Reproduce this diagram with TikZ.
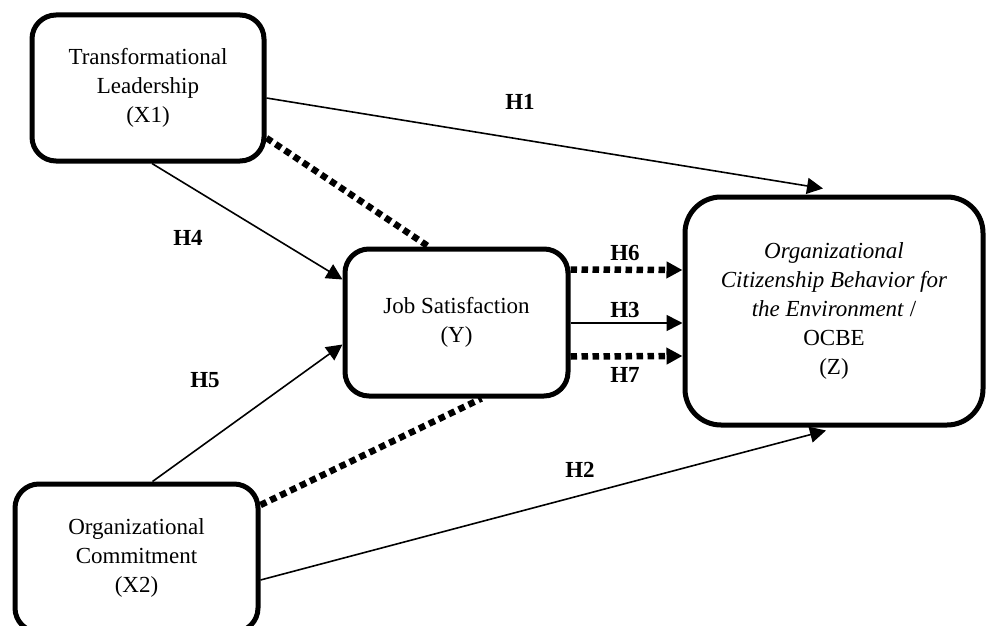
\documentclass[tikz,border=0pt]{standalone}
\usepackage{fontspec}
\setmainfont{Liberation Serif}
\usetikzlibrary{arrows.meta}
\tikzset{
  var/.style={draw, line width=5pt, rounded corners=24pt, align=center, inner sep=0pt,
    font=\fontsize{23}{29}\selectfont},
  tip/.style={-{Triangle[length=16pt,width=16pt]}},
  link/.style={line width=1.6pt, tip},
  dotlink/.style={line width=6.5pt, dash pattern=on 6.5pt off 4.5pt},
  hlab/.style={font=\fontsize{23}{29}\selectfont\bfseries, inner sep=0pt}
}
\begin{document}
\begin{tikzpicture}[x=1pt,y=-1pt]
\useasboundingbox (0,0) rectangle (986,626);
\node[var, minimum width=232pt, minimum height=146pt] (X1) at (148,88) {Transformational\\Leadership\\(X1)};
\node[var, minimum width=223pt, minimum height=147pt] (Y) at (456.5,322.5) {Job Satisfaction\\(Y)};
\node[var, minimum width=243pt, minimum height=148pt] (X2) at (136.5,558) {Organizational\\Commitment\\(X2)};
\node[var, rounded corners=36pt, minimum width=298pt, minimum height=228pt] (Z) at (834,311)
  {\textit{Organizational}\\\textit{Citizenship Behavior for}\\\textit{the Environment} /\\OCBE\\(Z)};
\draw[link] ([yshift=-10pt]X1.east) -- ([xshift=-11pt,yshift=6pt]Z.north);
\draw[dotlink] ([yshift=-50pt]X1.east) -- ([xshift=-28pt]Y.north);
\draw[link] ([xshift=4pt]X1.south) -- ([yshift=43pt]Y.west);
\draw[link] ([xshift=16pt]X2.north) -- ([yshift=-22pt]Y.west);
\draw[dotlink] ([yshift=53pt]X2.east) -- ([xshift=25pt]Y.south);
\draw[link] ([yshift=-22pt]X2.east) -- ([xshift=-8pt,yshift=-3pt]Z.south);
\draw[dotlink, tip] ([yshift=53pt]Y.east) -- ([yshift=41pt]Z.west);
\draw[link] ([yshift=-0.5pt]Y.east) -- ([yshift=-12pt]Z.west);
\draw[dotlink, tip] ([yshift=-34pt]Y.east) -- ([yshift=-45pt]Z.west);
\node[hlab] (h1) at (520,102) {H1};
\node[hlab] (h2) at (580,470) {H2};
\node[hlab] (h3) at (625,310) {H3};
\node[hlab] (h4) at (188,238) {H4};
\node[hlab] (h5) at (205,380) {H5};
\node[hlab] (h6) at (625,253) {H6};
\node[hlab] (h7) at (625,375) {H7};
\end{tikzpicture}
\end{document}
